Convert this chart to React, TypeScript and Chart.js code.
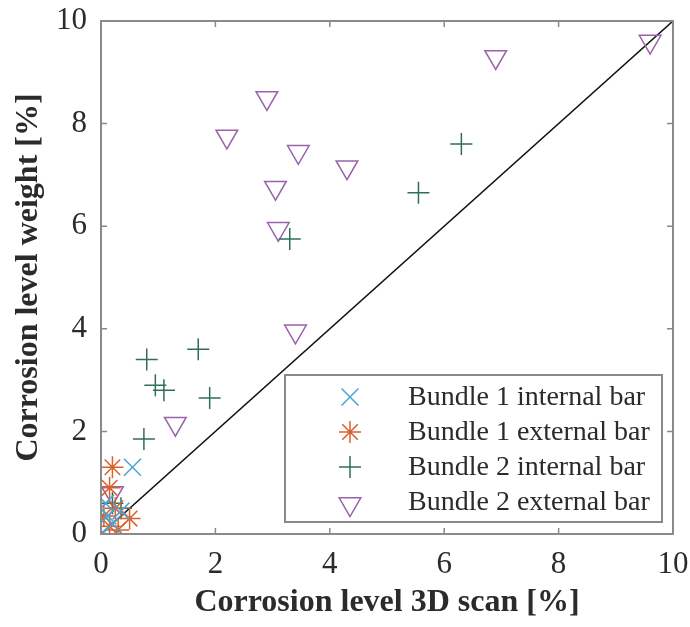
import React, { useEffect, useRef } from "react";
import { Chart, registerables } from "chart.js";
import { drawPoint } from "chart.js/helpers";

Chart.register(...registerables);

const tickValues = [0, 2, 4, 6, 8, 10];
const xTitle = "Corrosion level 3D scan [%]";
const yTitle = "Corrosion level weight [%]";

const seriesNames = [
  "Bundle 1 internal bar",
  "Bundle 1 external bar",
  "Bundle 2 internal bar",
  "Bundle 2 external bar",
];

const b1IntX = [0.55, 0.0, 0.0, 0.12, 0.35, 0.2, 0.08];
const b1IntY = [1.3, 0.0, 0.5, 0.35, 0.45, 0.2, 0.6];

const b1ExtX = [0.2, 0.15, 0.5, 0.3, 0.05, 0.15, 0.25];
const b1ExtY = [1.3, 0.9, 0.3, 0.08, 0.35, 0.15, 0.5];

const b2IntX = [6.3, 5.55, 3.3, 0.8, 1.7, 0.95, 1.1, 1.9, 0.75, 0.35, 0.2];
const b2IntY = [7.6, 6.65, 5.75, 3.4, 3.6, 2.9, 2.8, 2.65, 1.85, 0.5, 0.6];

const b2ExtX = [9.6, 6.9, 2.9, 2.2, 3.45, 4.3, 3.05, 3.1, 3.4, 1.3, 0.2];
const b2ExtY = [9.6, 9.3, 8.5, 7.75, 7.45, 7.15, 6.75, 5.95, 3.95, 2.15, 0.8];

const diagX = [0, 10];
const diagY = [0, 10];

const pts = (xs: number[], ys: number[]) => xs.map((x, i) => ({ x, y: ys[i] }));

const FONT = "'Liberation Serif', 'Times New Roman', serif";
const AXIS_COLOR = "#8a8a8a";
const TEXT_COLOR = "#2b2b2b";

const markerStyles = [
  { pointStyle: "crossRot", radius: 12, color: "#4aa3d4", rotation: 0 },
  { pointStyle: "star", radius: 11, color: "#d9622b", rotation: 0 },
  { pointStyle: "cross", radius: 11, color: "#2f6e5e", rotation: 0 },
  { pointStyle: "triangle", radius: 12.5, color: "#9a62aa", rotation: 180 },
];

const boxPlugin = {
  id: "boxAndLegend",
  afterDatasetsDraw(chart: any) {
    const { ctx, chartArea, scales } = chart;
    const { left, right, top, bottom } = chartArea;
    ctx.save();
    ctx.strokeStyle = AXIS_COLOR;
    ctx.lineWidth = 2;
    ctx.strokeRect(left, top, right - left, bottom - top);
    const tl = 6;
    ctx.lineWidth = 1.5;
    tickValues.forEach((v) => {
      const px = scales.x.getPixelForValue(v);
      const py = scales.y.getPixelForValue(v);
      ctx.beginPath();
      ctx.moveTo(px, bottom);
      ctx.lineTo(px, bottom - tl);
      ctx.moveTo(px, top);
      ctx.lineTo(px, top + tl);
      ctx.moveTo(left, py);
      ctx.lineTo(left + tl, py);
      ctx.moveTo(right, py);
      ctx.lineTo(right - tl, py);
      ctx.stroke();
    });
    // legend
    const lx = 285, ly = 375, lw = 377, lh = 147;
    ctx.fillStyle = "#ffffff";
    ctx.fillRect(lx, ly, lw, lh);
    ctx.strokeStyle = AXIS_COLOR;
    ctx.lineWidth = 2;
    ctx.strokeRect(lx, ly, lw, lh);
    const rows = [397, 432, 467, 502];
    ctx.font = `28px ${FONT}`;
    ctx.textBaseline = "middle";
    ctx.textAlign = "left";
    seriesNames.forEach((name, i) => {
      const m = markerStyles[i];
      ctx.strokeStyle = m.color;
      ctx.fillStyle = "rgba(0,0,0,0)";
      ctx.lineWidth = 1.5;
      drawPoint(
        ctx,
        {
          pointStyle: m.pointStyle,
          radius: m.radius,
          rotation: m.rotation,
          borderWidth: 1.5,
        } as any,
        350,
        rows[i] + (m.pointStyle === "triangle" ? 2 : 0)
      );
      ctx.fillStyle = TEXT_COLOR;
      ctx.fillText(name, 408, rows[i] + 1);
    });
    ctx.restore();
  },
};

export default function App() {
  const ref = useRef<HTMLCanvasElement | null>(null);
  useEffect(() => {
    if (!ref.current) return;
    const scatterSets = [
      pts(b1IntX, b1IntY),
      pts(b1ExtX, b1ExtY),
      pts(b2IntX, b2IntY),
      pts(b2ExtX, b2ExtY),
    ].map((data, i) => {
      const m = markerStyles[i];
      return {
        type: "scatter" as const,
        label: seriesNames[i],
        data,
        pointStyle: m.pointStyle,
        pointRadius: m.radius,
        pointRotation: m.rotation,
        pointBorderColor: m.color,
        pointBackgroundColor: "rgba(0,0,0,0)",
        pointBorderWidth: 1.5,
        showLine: false,
      };
    });
    const chart = new Chart(ref.current, {
      type: "scatter",
      data: {
        datasets: [
          ...scatterSets,
          {
            type: "line" as const,
            label: "diag",
            data: pts(diagX, diagY),
            borderColor: "#111111",
            borderWidth: 1.5,
            pointRadius: 0,
            showLine: true,
            order: 10,
          } as any,
        ],
      },
      options: {
        responsive: false,
        animation: false,
        layout: { padding: { left: 0, top: 21, right: 17, bottom: 0 } },
        plugins: {
          legend: { display: false },
          tooltip: { enabled: false },
        },
        scales: {
          x: {
            type: "linear",
            min: 0,
            max: 10,
            border: { display: false },
            grid: { display: false, drawTicks: false },
            ticks: {
              stepSize: 2,
              padding: 12,
              color: TEXT_COLOR,
              font: { family: FONT, size: 31 },
              maxRotation: 0,
            },
            title: {
              display: true,
              text: xTitle,
              color: TEXT_COLOR,
              font: { family: FONT, size: 32, weight: "bold" },
              padding: { top: 0, bottom: 5 },
            },
            afterFit: (s: any) => {
              s.height = 93;
              s.paddingLeft = 0;
              s.paddingRight = 0;
            },
          },
          y: {
            type: "linear",
            min: 0,
            max: 10,
            border: { display: false },
            grid: { display: false, drawTicks: false },
            ticks: {
              stepSize: 2,
              padding: 14,
              color: TEXT_COLOR,
              font: { family: FONT, size: 31 },
            },
            title: {
              display: true,
              text: yTitle,
              color: TEXT_COLOR,
              font: { family: FONT, size: 32, weight: "bold" },
              padding: { top: 10, bottom: 0 },
            },
            afterFit: (s: any) => {
              s.width = 101;
              s.paddingTop = 0;
              s.paddingBottom = 0;
            },
          },
        },
      } as any,
      plugins: [boxPlugin],
    });
    return () => chart.destroy();
  }, []);
  return (
    <canvas
      ref={ref}
      width={690}
      height={627}
      style={{ position: "absolute", left: 0, top: 0, display: "block", background: "#fff" }}
    />
  );
}
